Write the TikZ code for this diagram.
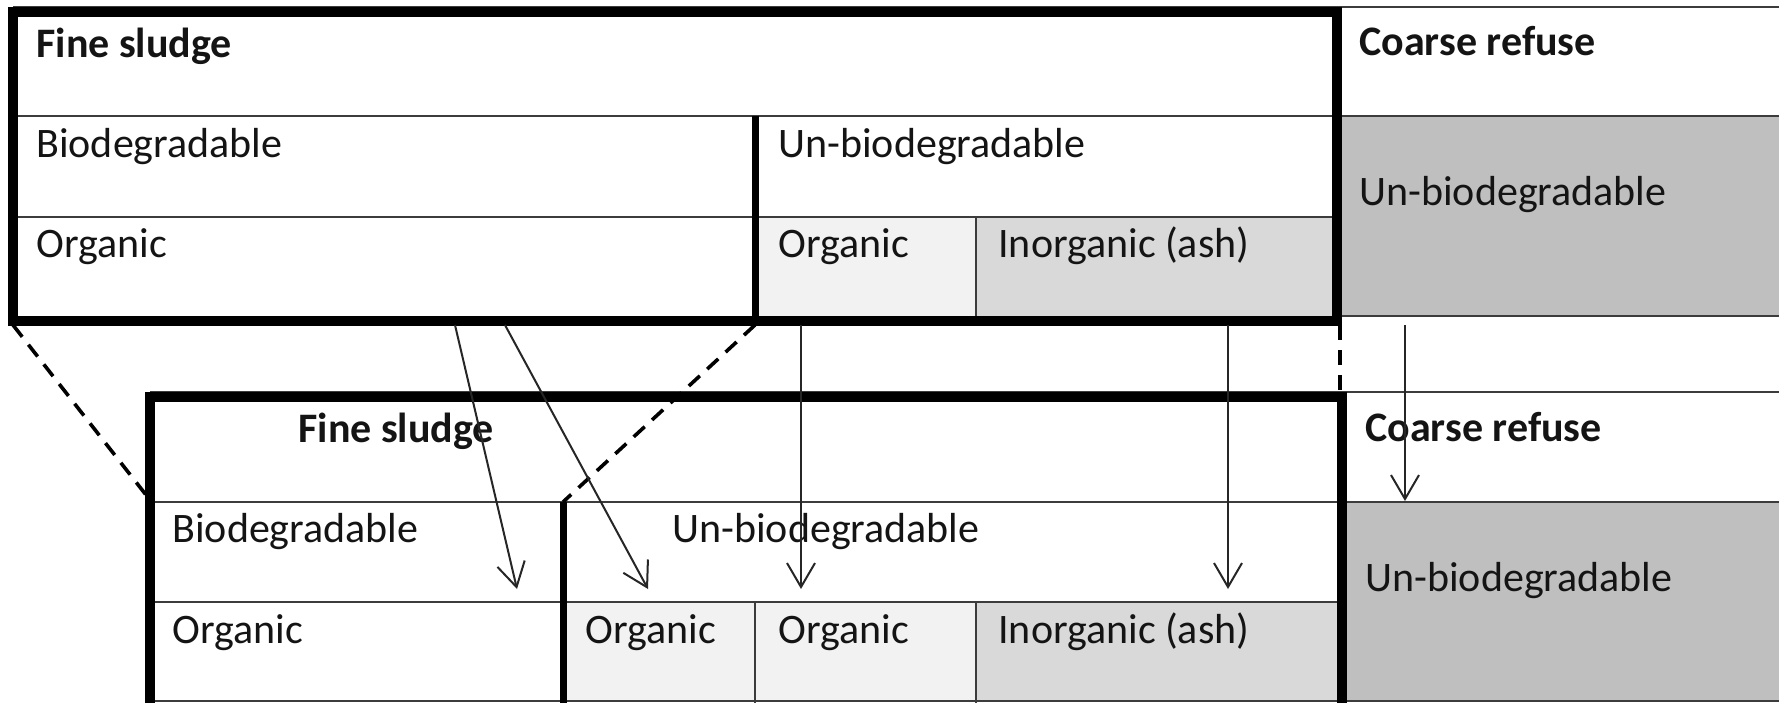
\documentclass[tikz,border=0pt]{standalone}
\usepackage{fontspec}
\setmainfont{Carlito}
\usetikzlibrary{arrows.meta}

\definecolor{orgfill}{HTML}{F2F2F2}
\definecolor{ashfill}{HTML}{D9D9D9}
\definecolor{coarsefill}{HTML}{BFBFBF}
\definecolor{rulegray}{HTML}{3C3C3C}
\definecolor{inkc}{HTML}{141414}

\tikzset{
  cellrule/.style={draw=rulegray, line width=1pt},
  framerule/.style={draw=black, line width=4.7pt, line join=miter},
  splitrule/.style={draw=black, line width=3.5pt},
  label/.style={anchor=base west, inner sep=0pt, text=inkc,
                font=\fontsize{21}{25}\selectfont},
  head/.style={label, font=\fontsize{21}{25}\selectfont\bfseries},
  flow/.style={draw=black!85, line width=1pt,
               -{Straight Barb[length=12pt,width=14pt,line width=1pt]}},
  map/.style={draw=black, line width=1.8pt, dash pattern=on 7.5pt off 5pt}
}

\begin{document}
\begin{tikzpicture}[x=0.5pt,y=-0.5pt]
\useasboundingbox (0,0) rectangle (1779,703);

% ---------- upper table: shaded cells ----------
\fill[orgfill]    (755,217) rectangle (976,321);
\fill[ashfill]    (976,217) rectangle (1337,321);
\fill[coarsefill] (1337,116) rectangle (1779,316);

% ---------- upper table: thin rules ----------
\draw[cellrule] (13,7) -- (1779,7);
\draw[cellrule] (13,116) -- (1779,116);
\draw[cellrule] (13,217) -- (1337,217);
\draw[cellrule] (976,217) -- (976,321);
\draw[cellrule] (1337,316) -- (1779,316);

% ---------- upper table: heavy rules ----------
\draw[splitrule] (755,116) -- (755,321);
\draw[framerule] (13,12) rectangle (1337,321);

% ---------- lower table: shaded cells ----------
\fill[orgfill]    (563,602) rectangle (755,701);
\fill[orgfill]    (755,602) rectangle (976,701);
\fill[ashfill]    (976,602) rectangle (1342,701);
\fill[coarsefill] (1342,502) rectangle (1779,701);

% ---------- lower table: thin rules ----------
\draw[cellrule] (150,392) -- (1779,392);
\draw[cellrule] (150,502) -- (1779,502);
\draw[cellrule] (150,602) -- (1342,602);
\draw[cellrule] (755,602) -- (755,703);
\draw[cellrule] (976,602) -- (976,703);
\draw[cellrule] (150,701) -- (1779,701);

% ---------- lower table: heavy rules ----------
\draw[splitrule] (563,502) -- (563,703);
\draw[framerule] (150,703) -- (150,397) -- (1342,397) -- (1342,703);

% ---------- upper table: labels ----------
\node[head]  (fs1)  at (36,57)    {Fine sludge};
\node[head]  (cr1)  at (1359,55)  {Coarse refuse};
\node[label] (bd1)  at (36,157)   {Biodegradable};
\node[label] (ub1)  at (778,157)  {Un-biodegradable};
\node[label] (or1)  at (36,257)   {Organic};
\node[label] (uo1)  at (778,257)  {Organic};
\node[label] (as1)  at (998,257)  {Inorganic (ash)};
\node[label] (cu1)  at (1359,205) {Un-biodegradable};

% ---------- lower table: labels ----------
\node[head]  (fs2)  at (298,442)  {Fine sludge};
\node[head]  (cr2)  at (1365,441) {Coarse refuse};
\node[label] (bd2)  at (172,542)  {Biodegradable};
\node[label] (ub2)  at (672,542)  {Un-biodegradable};
\node[label] (or2)  at (172,643)  {Organic};
\node[label] (uo2a) at (585,643)  {Organic};
\node[label] (uo2b) at (778,643)  {Organic};
\node[label] (as2)  at (998,643)  {Inorganic (ash)};
\node[label] (cu2)  at (1365,591) {Un-biodegradable};

% ---------- end points of the connectors ----------
\coordinate (m1a) at (13,325);   \coordinate (m1b) at (150,500);
\coordinate (m2a) at (755,325);  \coordinate (m2b) at (563,502);
\coordinate (m3a) at (1340,325); \coordinate (m3b) at (1340,392);

\coordinate (f1a) at (455,325);  \coordinate (f1b) at (517,589);
\coordinate (f2a) at (505,325);  \coordinate (f2b) at (648,589);
\coordinate (f3a) at (801,325);  \coordinate (f3b) at (801,589);
\coordinate (f4a) at (1228,325); \coordinate (f4b) at (1228,589);
\coordinate (f5a) at (1405,325); \coordinate (f5b) at (1405,501);

% ---------- dashed projection lines ----------
\draw[map] (m1a) -- (m1b);
\draw[map] (m2a) -- (m2b);
\draw[map] (m3a) -- (m3b);

% ---------- flow arrows ----------
\draw[flow] (f1a) -- (f1b);
\draw[flow] (f2a) -- (f2b);
\draw[flow] (f3a) -- (f3b);
\draw[flow] (f4a) -- (f4b);
\draw[flow] (f5a) -- (f5b);
\end{tikzpicture}
\end{document}
